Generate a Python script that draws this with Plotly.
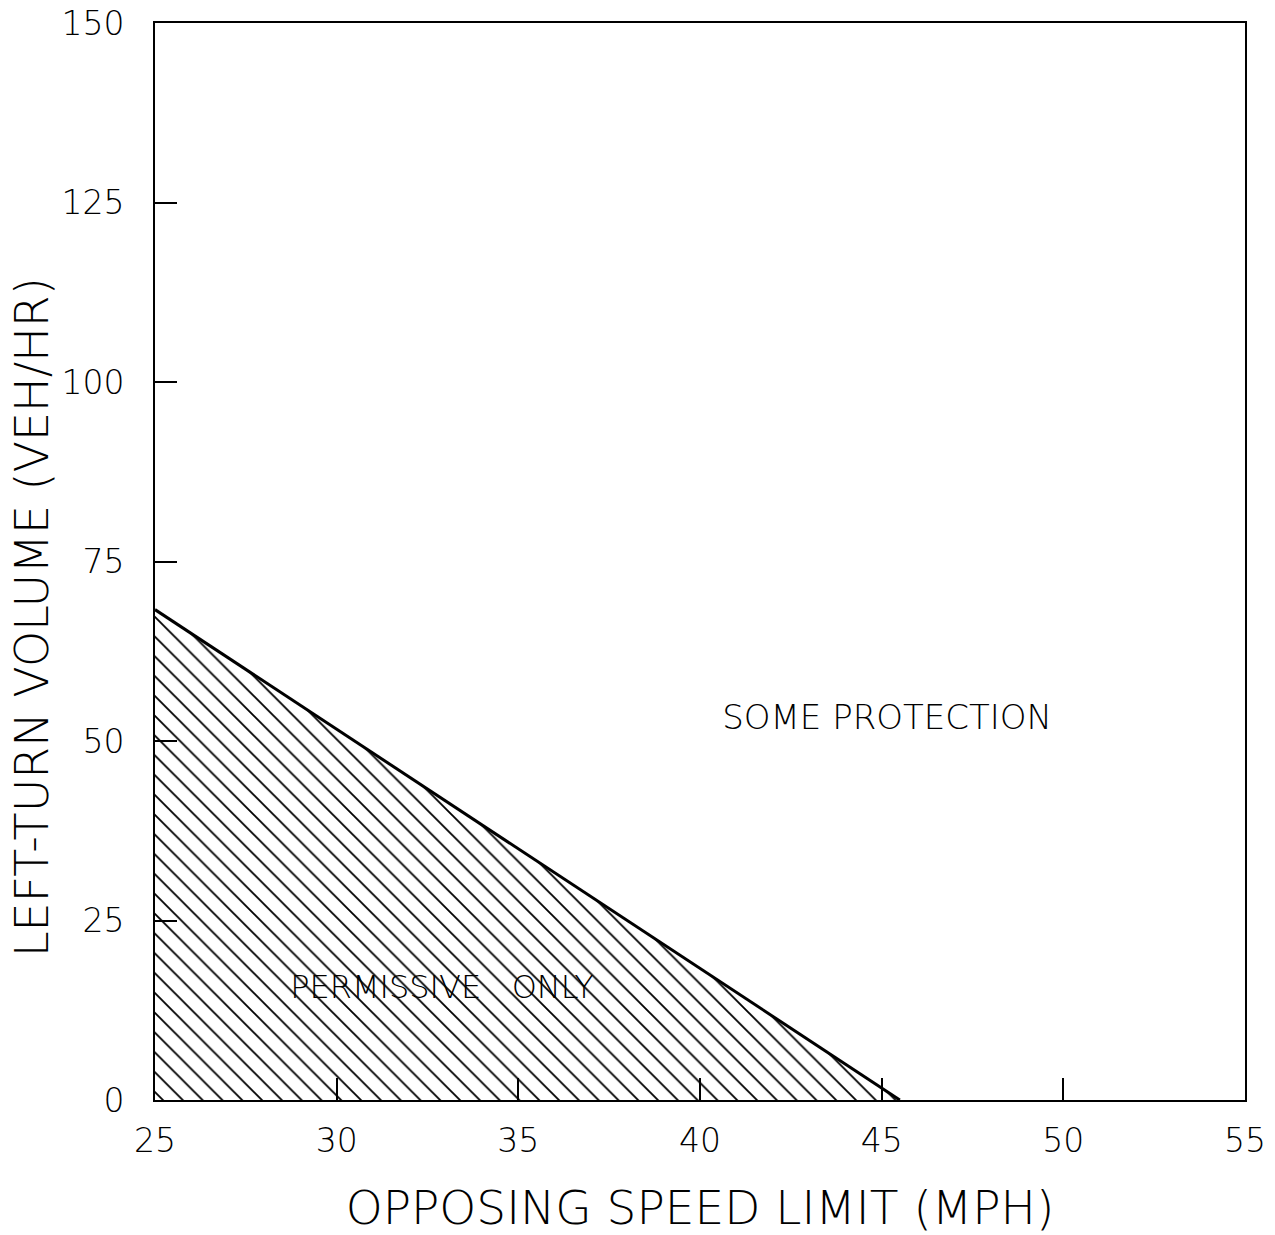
import plotly.graph_objects as go

# Data
boundary_speed = [25, 45.5]          # opposing speed limit (mph)
boundary_volume = [68.3, 0]          # left-turn volume (veh/hr)
x_ticks = [25, 30, 35, 40, 45, 50, 55]
y_ticks = [0, 25, 50, 75, 100, 125, 150]
region_labels = ["SOME PROTECTION", "PERMISSIVE   ONLY"]
region_x = [45.15, 32.9]
region_y = [52.9, 15.3]
region_sizes = [34, 32]

FONT = "DejaVu Sans"

fig = go.Figure()
fig.add_trace(go.Scatter(
    x=boundary_speed, y=boundary_volume, mode="lines",
    line=dict(color="black", width=3),
    fill="tozeroy", fillcolor="white",
    fillpattern=dict(shape="\\", size=14, solidity=0.13, fgcolor="black",
                     fgopacity=1, bgcolor="white"),
    showlegend=False, hoverinfo="skip",
))

fig.add_trace(go.Scatter(
    x=region_x, y=region_y, mode="text", text=region_labels,
    textfont=dict(family=FONT, size=region_sizes, color="black", weight=200),
    textposition="middle center", showlegend=False, hoverinfo="skip",
))

axis_common = dict(
    showgrid=False, zeroline=False, showline=True, linecolor="black", linewidth=2,
    mirror=True, ticks="inside", ticklen=22, tickwidth=1.5, tickcolor="black",
    automargin=False,
    tickfont=dict(family=FONT, size=33, color="black", weight=200),
)

fig.update_xaxes(
    range=[25, 55], tickvals=x_ticks, ticktext=[str(v) for v in x_ticks],
    ticklabelstandoff=10,
    title=dict(text="OPPOSING SPEED LIMIT (MPH)", font=dict(family=FONT, size=47, color="black", weight=200), standoff=38),
    **axis_common,
)
fig.update_yaxes(
    range=[0, 150], tickvals=y_ticks, ticktext=[str(v) for v in y_ticks],
    ticklabelstandoff=22,
    **axis_common,
)

fig.add_annotation(
    text="LEFT-TURN VOLUME (VEH/HR)", textangle=-90,
    xref="paper", yref="paper", x=-0.1128, y=0.4485,
    xanchor="center", yanchor="middle", showarrow=False,
    font=dict(family=FONT, size=46, color="black", weight=200),
)

fig.update_layout(
    width=1275, height=1235,
    margin=dict(l=155, r=30, t=23, b=135),
    plot_bgcolor="white", paper_bgcolor="white",
)

fig.write_html("out.html")
